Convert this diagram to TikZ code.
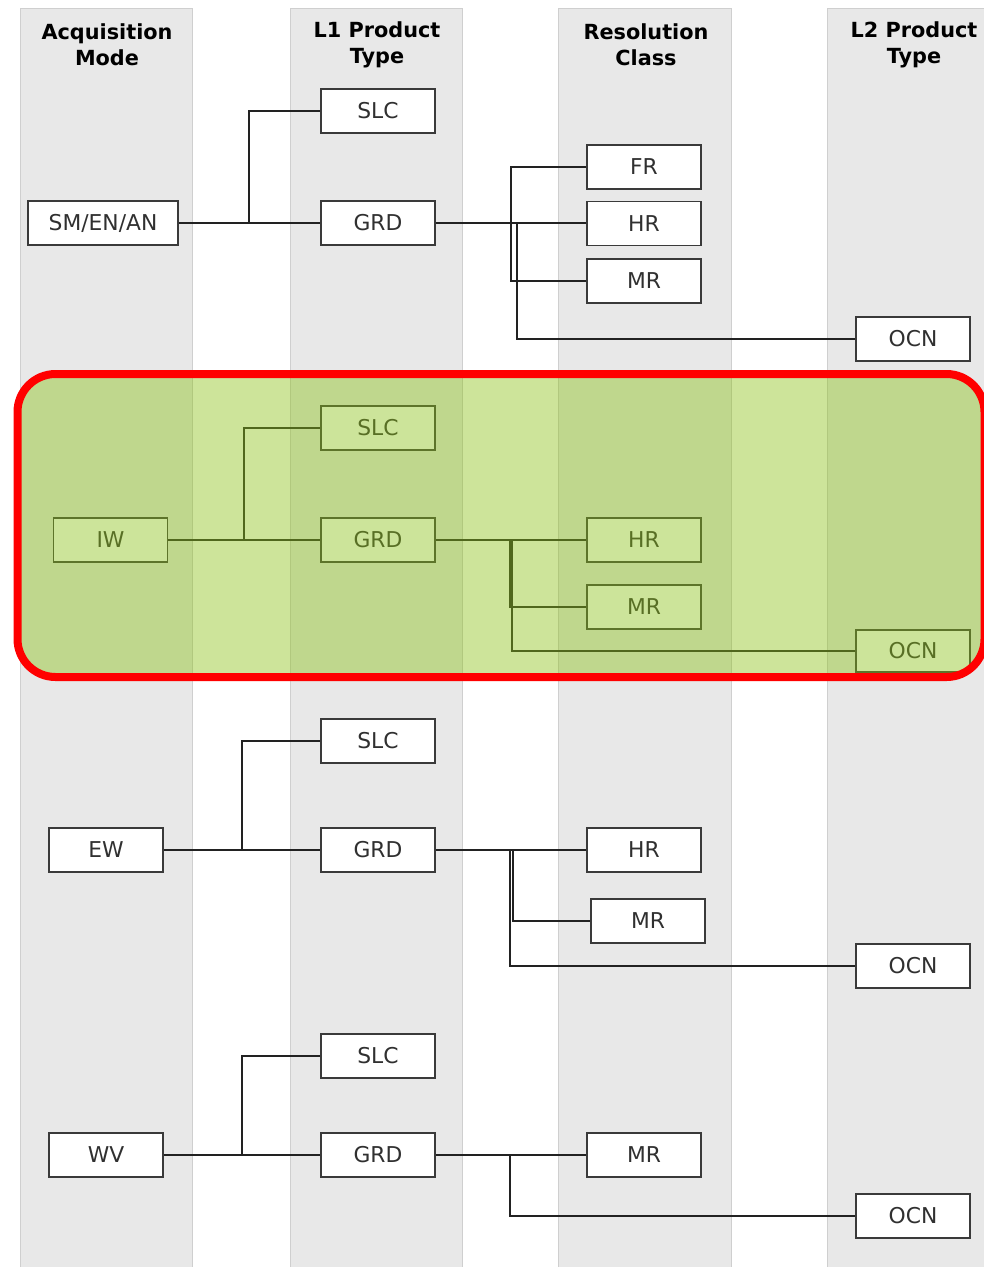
\documentclass[tikz,border=0pt]{standalone}
\usepackage{fontspec}
\setmainfont{DejaVu Sans}
\begin{document}
\begin{tikzpicture}[x=1pt,y=-1pt,
  band/.style={fill=bandgray, draw=bandedge, line width=1pt},
  hdr/.style={font=\fontsize{20.8}{26}\selectfont\bfseries, align=center, text=black},
  box/.style={draw=boxedge, fill=white, line width=1.8pt, minimum width=114pt, minimum height=44pt, inner sep=0pt, font=\fontsize{21.8}{24}\selectfont, text=boxtext},
  conn/.style={draw=linecol, line width=1.4pt}
]
\definecolor{bandgray}{HTML}{E8E8E8}
\definecolor{bandedge}{HTML}{CFCFCF}
\definecolor{boxedge}{HTML}{3A3A3A}
\definecolor{boxtext}{HTML}{303030}
\definecolor{linecol}{HTML}{222222}
\definecolor{hlgreen}{RGB}{140,193,23}
\useasboundingbox (0,0) rectangle (984,1267);
% columns
\path[band] (20,8) rectangle (192,1270);
\path[band] (290,8) rectangle (462,1270);
\path[band] (558,8) rectangle (731,1270);
\path[band] (827,8) rectangle (1001,1270);
% headers
\node[hdr] (h1) at (107,45) {Acquisition\\Mode};
\node[hdr] (h2) at (377,45) {L1 Product\\Type};
\node[hdr] (h3) at (646,45) {Resolution\\Class};
\node[hdr] (h4) at (914,45) {L2 Product\\Type};

% ---- section 1
\node[box, minimum width=150pt] (sm) at (103,223) {SM/EN/AN};
\node[box] (slc1) at (378,111) {SLC};
\node[box] (grd1) at (378,223) {GRD};
\node[box] (fr1) at (644,167) {FR};
\node[box] (hr1) at (644,223.5) {HR};
\node[box] (mr1) at (644,281) {MR};
\node[box] (ocn1) at (913,339) {OCN};
\coordinate (j1) at (249,223);
\coordinate (k1) at (511,223);
\coordinate (k1b) at (517,223);
\draw[conn] (sm.east) -- (grd1.west);
\draw[conn] (j1) |- (slc1.west);
\draw[conn] (grd1.east) -- (k1b);
\draw[conn] (k1) |- (fr1.west);
\draw[conn] (k1) |- (mr1.west);
\draw[conn] (k1b) -- (k1b -| hr1.west);
\draw[conn] (k1b) |- (ocn1.west);

% ---- section 2
\node[box] (iw) at (110.5,540) {IW};
\node[box] (slc2) at (378,428) {SLC};
\node[box] (grd2) at (378,540) {GRD};
\node[box] (hr2) at (644,540) {HR};
\node[box] (mr2) at (644,607) {MR};
\node[box, minimum height=42pt] (ocn2) at (913,651) {OCN};
\coordinate (j2) at (244,540);
\coordinate (k2) at (510,540);
\coordinate (k2b) at (512,540);
\draw[conn] (iw.east) -- (grd2.west);
\draw[conn] (j2) |- (slc2.west);
\draw[conn] (grd2.east) -- (hr2.west);
\draw[conn] (k2) |- (mr2.west);
\draw[conn] (k2b) |- (ocn2.west);

% ---- section 3
\node[box] (ew) at (106,850) {EW};
\node[box] (slc3) at (378,741) {SLC};
\node[box] (grd3) at (378,850) {GRD};
\node[box] (hr3) at (644,850) {HR};
\node[box] (mr3) at (648,921) {MR};
\node[box] (ocn3) at (913,966) {OCN};
\coordinate (j3) at (242,850);
\coordinate (k3) at (513,850);
\coordinate (k3b) at (510,850);
\draw[conn] (ew.east) -- (grd3.west);
\draw[conn] (j3) |- (slc3.west);
\draw[conn] (grd3.east) -- (hr3.west);
\draw[conn] (k3) |- (mr3.west);
\draw[conn] (k3b) |- (ocn3.west);

% ---- section 4
\node[box] (wv) at (106,1155) {WV};
\node[box] (slc4) at (378,1056) {SLC};
\node[box] (grd4) at (378,1155) {GRD};
\node[box] (mr4) at (644,1155) {MR};
\node[box] (ocn4) at (913,1216) {OCN};
\coordinate (j4) at (242,1155);
\coordinate (k4) at (510,1155);
\draw[conn] (wv.east) -- (grd4.west);
\draw[conn] (j4) |- (slc4.west);
\draw[conn] (grd4.east) -- (mr4.west);
\draw[conn] (k4) |- (ocn4.west);

% ---- highlight
\fill[hlgreen, fill opacity=0.435, rounded corners=38pt] (17.5,374) rectangle (984.5,677);
\draw[red, line width=8pt, rounded corners=38pt] (17.5,374) rectangle (984.5,677);
\end{tikzpicture}
\end{document}
